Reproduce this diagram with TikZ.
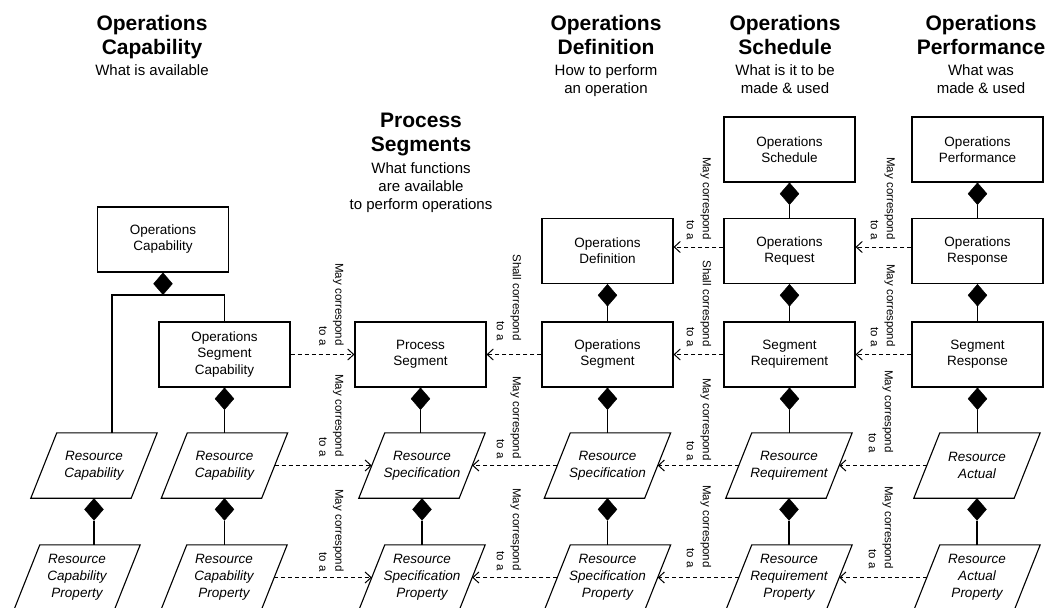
\documentclass[tikz,border=0pt]{standalone}
\usepackage{fontspec}
\setmainfont{Liberation Sans}
\usetikzlibrary{arrows.meta,shapes.geometric,calc}
\begin{document}
\begin{tikzpicture}[x=1pt,y=-1pt,
  box/.style={draw, line width=1.1pt, minimum width=131pt, minimum height=65pt, inner sep=0pt, align=center, font=\fontsize{13.5}{16}\selectfont},
  para/.style={minimum width=100pt, minimum height=65pt, inner sep=0pt, align=center, font=\fontsize{13.5}{17}\selectfont\itshape},
  dmd/.style={diamond, fill=black, draw=black, inner sep=0pt, minimum width=19pt, minimum height=22pt, anchor=north},
  comp/.style={line width=1.1pt},
  dep/.style={line width=1pt, dash pattern=on 4pt off 3pt, -{Straight Barb[length=6pt,width=11pt]}},
  lbl/.style={rotate=-90, anchor=east, align=right, inner sep=0pt, font=\fontsize{11.5}{16}\selectfont},
  title/.style={align=center, anchor=north, inner sep=0pt, font=\fontsize{21}{24}\selectfont\bfseries},
  sub/.style={align=center, anchor=north, inner sep=0pt, font=\fontsize{15}{18}\selectfont},
]
\useasboundingbox (0,0) rectangle (1050,608);
\fill[white] (0,0) rectangle (1050,608);
\clip (0,0) rectangle (1050,608);

% headers
\node[title] (h1) at (152,15) {Operations\\Capability};
\node[sub] (s1) at (152,64) {What is available};
\node[title] (h2) at (421,113) {Process\\Segments};
\node[sub] (s2) at (421,162) {What functions\\are available\\to perform operations};
\node[title] (h3) at (606,15) {Operations\\Definition};
\node[sub] (s3) at (606,64) {How to perform\\an operation};
\node[title] (h4) at (785,15) {Operations\\Schedule};
\node[sub] (s4) at (785,64) {What is it to be\\made \& used};
\node[title] (h5) at (981,15) {Operations\\Performance};
\node[sub] (s5) at (981,64) {What was\\made \& used};

% boxes
\node[box] (OC) at (163,239.5) {Operations\\Capability};
\node[box, font=\fontsize{13.5}{16.5}\selectfont] (OSC) at (224.5,354.5) {Operations\\Segment\\Capability};
\node[box] (PS) at (420.5,354.5) {Process\\Segment};
\node[box] (OD) at (607.5,251) {Operations\\Definition};
\node[box] (OSg) at (607.5,354.5) {Operations\\Segment};
\node[box] (OSch) at (789.5,149.5) {Operations\\Schedule};
\node[box] (OR) at (789.5,251) {Operations\\Request};
\node[box] (SR) at (789.5,354.5) {Segment\\Requirement};
\node[box] (OP) at (977.5,149.5) {Operations\\Performance};
\node[box] (ORs) at (977.5,251) {Operations\\Response};
\node[box] (SRs) at (977.5,354.5) {Segment\\Response};

% parallelograms
\node[para] (rc1) at (94,465.5) {Resource\\Capability};
\node[para] (rc2) at (224.5,465.5) {Resource\\Capability};
\node[para] (rs3) at (422,465.5) {Resource\\Specification};
\node[para] (rs4) at (607.5,465.5) {Resource\\Specification};
\node[para] (rr5) at (789,465.5) {Resource\\Requirement};
\node[para] (ra6) at (977,465.5) {Resource\\Actual};
\node[para] (rcp1) at (77,577.5) {Resource\\Capability\\Property};
\node[para] (rcp2) at (224,577.5) {Resource\\Capability\\Property};
\node[para] (rsp3) at (422,577.5) {Resource\\Specification\\Property};
\node[para] (rsp4) at (607.5,577.5) {Resource\\Specification\\Property};
\node[para] (rrp5) at (789,577.5) {Resource\\Requirement\\Property};
\node[para] (rap6) at (977,577.5) {Resource\\Actual\\Property};
\foreach \n in {rc1,rc2,rs3,rs4,rr5,ra6,rcp1,rcp2,rsp3,rsp4,rrp5,rap6}
  \draw[comp] ([xshift=13pt]\n.north west) -- ([xshift=13pt]\n.north east)
    -- ([xshift=-13pt]\n.south east) -- ([xshift=-13pt]\n.south west) -- cycle;

% composition diamonds and lines
\node[dmd] (dOC) at (OC.south) {};
\coordinate (cl) at (112,0);
\draw[comp] (rc1.north -| cl) |- (dOC.south) -| (OSC.north);
\foreach \p/\c in {OSC/rc2, rc1/rcp1, rc2/rcp2, PS/rs3, rs3/rsp3, OD/OSg, OSg/rs4, rs4/rsp4,
  OSch/OR, OR/SR, SR/rr5, rr5/rrp5, OP/ORs, ORs/SRs, SRs/ra6, ra6/rap6} {
  \node[dmd] (d\p) at (\p.south) {};
  \draw[comp] (d\p.south) -- (d\p.south |- \c.north);
}

% dependencies
\draw[dep] (OSC.east) -- (PS.west);
\draw[dep] (OSg.west) -- (PS.east);
\draw[dep] (SR.west) -- (OSg.east);
\draw[dep] ([yshift=4pt]OR.west) -- ([yshift=4pt]OD.east);
\draw[dep] ([yshift=4pt]ORs.west) -- ([yshift=4pt]OR.east);
\draw[dep] (SRs.west) -- (SR.east);
\draw[dep] (rc2.east) -- (rs3.west);
\draw[dep] (rs4.west) -- (rs3.east);
\draw[dep] (rr5.west) -- (rs4.east);
\draw[dep] (ra6.west) -- (rr5.east);
\draw[dep] (rcp2.east) -- (rsp3.west);
\draw[dep] (rsp4.west) -- (rsp3.east);
\draw[dep] (rrp5.west) -- (rsp4.east);
\draw[dep] (rap6.west) -- (rrp5.east);

% labels
\node[lbl] (l1) at (331.5,346) {May correspond\\to a};
\node[lbl] (l2) at (331.5,457) {May correspond\\to a};
\node[lbl] (l3) at (331.5,572) {May correspond\\to a};
\node[lbl] (l4) at (509,341) {Shall correspond\\to a};
\node[lbl] (l5) at (509,459) {May correspond\\to a};
\node[lbl] (l6) at (509,571) {May correspond\\to a};
\node[lbl] (l7) at (699,240) {May correspond\\to a};
\node[lbl] (l8) at (699,347) {Shall correspond\\to a};
\node[lbl] (l9) at (699,461) {May correspond\\to a};
\node[lbl] (l10) at (699,568) {May correspond\\to a};
\node[lbl] (l11) at (883,240) {May correspond\\to a};
\node[lbl] (l12) at (883,347) {May correspond\\to a};
\node[lbl] (l13) at (881,453) {May correspond\\to a};
\node[lbl] (l14) at (881,569) {May correspond\\to a};
\end{tikzpicture}
\end{document}
